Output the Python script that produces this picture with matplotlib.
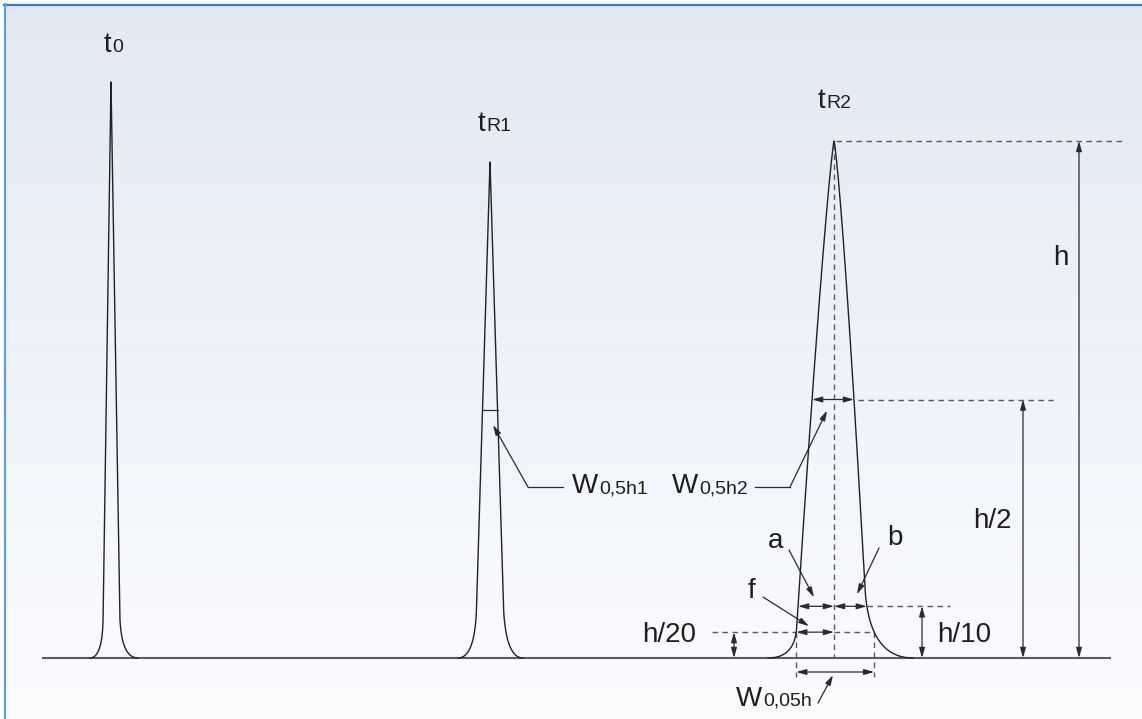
"""Chromatogram sketch: dead time t0, two peaks tR1 / tR2 and the
peak-width / tailing dimensions drawn on the second peak."""

import numpy as np
import matplotlib.pyplot as plt

# ---------------------------------------------------------------------------
# Data (pixel units, y grows downwards)
# ---------------------------------------------------------------------------
baseline_y = 658
baseline_x = [42, 1111]

peak_names = ["t0", "tR1", "tR2"]
peak_center = [111, 490, 834]
peak_apex_y = [82, 162, 141]
# core half-width at the base and shape exponent (1 = triangle)
left_a = [8.5, 15.0, 39.3]
right_a = [9.5, 15.0, 34.8]
left_k = [1.0, 1.0, 0.84]
right_k = [1.0, 1.0, 0.80]
# height where the foot starts rounding, and where it meets the baseline
left_foot_h = [40, 50, 30]
right_foot_h = [45, 55, 70]
left_foot_w = [21, 32, 66]
right_foot_w = [27, 33, 79]

# ---------------------------------------------------------------------------
# Styles
# ---------------------------------------------------------------------------
W, H = 1142, 719
FONT = ["Liberation Sans", "DejaVu Sans"]
TXT = "#1e1e1e"
LINE = "#222222"
DASH = "#5a5a5a"
MAIN_SIZE = 20
SUB_SIZE = 14
HEAD = "-|>,head_length=0.6,head_width=0.17"
HEAD2 = "<|-|>,head_length=0.6,head_width=0.17"


def side_profile(a, k, height, foot_h, foot_w):
    """Offset from the peak centre vs height above baseline, apex -> foot."""
    h = np.linspace(height, foot_h, 300)
    off = a * (1 - h / height) ** k
    p0 = foot_h / height
    xc = off[-1] + foot_h * a * k * (1 - p0) ** (k - 1) / height
    t = np.linspace(0, 1, 80)[1:]
    bx = (1 - t) ** 2 * off[-1] + 2 * t * (1 - t) * xc + t ** 2 * foot_w
    bh = (1 - t) ** 2 * foot_h
    return np.concatenate([off, bx]), np.concatenate([h, bh])


def edge(off, h, level):
    return np.interp(level, h[::-1], off[::-1])


def arrow(ax, start, end, style=HEAD):
    ax.annotate("", xy=end, xytext=start,
                arrowprops=dict(arrowstyle=style, color="#2b2b2b", lw=0.9,
                                shrinkA=0, shrinkB=0, mutation_scale=10))


def dashed(ax, xs, ys):
    ax.plot(xs, ys, color=DASH, lw=1.0, dashes=(4, 3.2), zorder=2)


def label(ax, x, y, main, sub="", ha="left"):
    t = ax.text(x, y, main, fontsize=MAIN_SIZE, family=FONT, color=TXT,
                ha=ha, va="baseline")
    if sub:
        fig = ax.figure
        r = fig.canvas.get_renderer()
        x1 = t.get_window_extent(r).x1
        ax.text(x1 + 0.5, y, sub, fontsize=SUB_SIZE, family=FONT, color=TXT,
                ha="left", va="baseline")


fig = plt.figure(figsize=(W / 100, H / 100), dpi=100)
ax = fig.add_axes([0, 0, 1, 1])
ax.set_xlim(0, W)
ax.set_ylim(H, 0)
ax.axis("off")

# background gradient inside the frame
top_c = np.array([0.886, 0.914, 0.961])
bot_c = np.array([0.984, 0.988, 0.996])
g = np.linspace(0, 1, 256)[:, None]
grad = (top_c * (1 - g) + bot_c * g)[:, None, :]
ax.imshow(grad, extent=(5, W, H, 5), aspect="auto", zorder=0,
          interpolation="bilinear")
ax.plot([4, W], [5, 5], color="#2f80c3", lw=1.6, zorder=1)
ax.plot([5, 5], [4, H], color="#5aa2da", lw=1.6, zorder=1)

# baseline
ax.plot(baseline_x, [baseline_y, baseline_y], color="#5c5c5c", lw=1.5,
        zorder=3, solid_capstyle="butt")

# peaks
sides = []
for i in range(len(peak_names)):
    c = peak_center[i]
    hgt = baseline_y - peak_apex_y[i]
    lo, lh = side_profile(left_a[i], left_k[i], hgt, left_foot_h[i],
                          left_foot_w[i])
    ro, rh = side_profile(right_a[i], right_k[i], hgt, right_foot_h[i],
                          right_foot_w[i])
    xs = np.concatenate([(c - lo)[::-1], c + ro])
    ys = np.concatenate([(baseline_y - lh)[::-1], baseline_y - rh])
    ax.plot(xs, ys, color=LINE, lw=1.0, zorder=4)
    sides.append((lo, lh, ro, rh, hgt))

# peak labels
label(ax, 104, 52, "t", "0")
label(ax, 478, 131, "t", "R1")
label(ax, 818, 108, "t", "R2")

# --- half width of peak 1 ---
lo, lh, ro, rh, h1 = sides[1]
c1 = peak_center[1]
y_half1 = baseline_y - h1 / 2
ax.plot([c1 - edge(lo, lh, h1 / 2), c1 + edge(ro, rh, h1 / 2)],
        [y_half1, y_half1], color="#2b2b2b", lw=0.9, zorder=4)
ax.plot([563, 528], [487, 487], color="#2b2b2b", lw=0.9)
arrow(ax, (528, 487), (c1 + 3, y_half1 + 15))
label(ax, 572, 493, "W", "0,5h1")

# --- dimensions on peak 2 ---
lo, lh, ro, rh, h2 = sides[2]
c2 = peak_center[2]
y_top = peak_apex_y[2]
y_half = baseline_y - h2 / 2
y_10 = baseline_y - h2 / 10
y_20 = baseline_y - h2 / 20
l50, r50 = c2 - edge(lo, lh, h2 / 2), c2 + edge(ro, rh, h2 / 2)
l10, r10 = c2 - edge(lo, lh, h2 / 10), c2 + edge(ro, rh, h2 / 10)
l20, r20 = c2 - edge(lo, lh, h2 / 20), c2 + edge(ro, rh, h2 / 20)

# centre line and level lines
dashed(ax, [c2, c2], [y_top + 3, baseline_y])
dashed(ax, [c2 + 2, 1122], [y_top, y_top])
dashed(ax, [r50 + 4, 1053], [y_half, y_half])
dashed(ax, [r10, 950], [y_10, y_10])
dashed(ax, [712, l20], [y_20, y_20])
dashed(ax, [c2, r20], [y_20, y_20])
dashed(ax, [l20, l20], [y_20, baseline_y + 19])
dashed(ax, [r20, r20], [y_20, baseline_y + 19])

# vertical height arrows
arrow(ax, (1079, baseline_y), (1079, y_top), HEAD2)
arrow(ax, (1023, baseline_y), (1023, y_half), HEAD2)
arrow(ax, (922, baseline_y), (922, y_10), HEAD2)
arrow(ax, (734, baseline_y), (734, y_20), HEAD2)
label(ax, 1053, 265, "h")
label(ax, 973, 528, "h/2")
label(ax, 937, 642, "h/10")
label(ax, 696, 642, "h/20", ha="right")

# width arrows
arrow(ax, (l50, y_half), (r50, y_half), HEAD2)
arrow(ax, (l10, y_10), (c2, y_10), HEAD2)
arrow(ax, (c2, y_10), (r10, y_10), HEAD2)
arrow(ax, (l20, y_20), (c2, y_20), HEAD2)
arrow(ax, (l20, baseline_y + 14), (r20, baseline_y + 14), HEAD2)

# leaders
ax.plot([755, 790], [487, 487], color="#2b2b2b", lw=0.9)
arrow(ax, (790, 487), (c2 - 7, y_half + 11))
label(ax, 672, 493, "W", "0,5h2")
arrow(ax, (789, 550), (814, y_10 - 9))
label(ax, 768, 548, "a")
arrow(ax, (879, 548), (857, y_10 - 12))
label(ax, 887, 545, "b")
arrow(ax, (763, 597), (809, y_20 - 6))
label(ax, 748, 598, "f")
arrow(ax, (818, 703), (c2 - 1, baseline_y + 17))
label(ax, 736, 706, "W", "0,05h")

fig.savefig("out.png", dpi=100)
